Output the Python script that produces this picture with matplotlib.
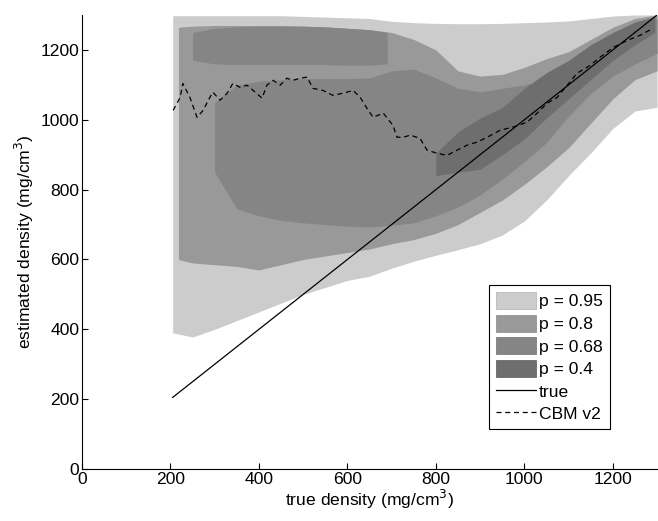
import numpy as np
import matplotlib
matplotlib.use("Agg")
import matplotlib.pyplot as plt
from matplotlib.patches import Patch

plt.rcParams["font.family"] = ["Liberation Sans", "DejaVu Sans"]
plt.rcParams["font.size"] = 12.6

# p = 0.95 region
light_x = [205, 250, 300, 350, 400, 450, 500, 550, 600, 650, 700, 750,
           800, 850, 900, 950, 1000, 1050, 1100, 1150, 1200, 1250, 1300]
light_lo = [390, 378, 400, 425, 450, 475, 500, 520, 540, 552, 575, 595,
            612, 628, 645, 670, 710, 770, 840, 905, 975, 1025, 1036]
light_hi = [1298, 1298, 1298, 1298, 1298, 1298, 1296, 1294, 1292, 1290, 1282, 1278,
            1276, 1275, 1275, 1276, 1278, 1280, 1283, 1290, 1297, 1300, 1300]

# p = 0.8 region
med_x = [218, 250, 300, 350, 400, 450, 500, 550, 600, 650, 700, 750,
         800, 850, 900, 950, 1000, 1050, 1100, 1150, 1200, 1250, 1300]
med_lo = [600, 590, 585, 580, 570, 585, 600, 610, 620, 630, 645, 657,
          675, 700, 735, 770, 815, 865, 920, 990, 1060, 1115, 1140]
med_hi = [1265, 1268, 1270, 1270, 1270, 1270, 1268, 1266, 1262, 1258, 1250, 1230,
          1200, 1140, 1125, 1130, 1150, 1175, 1195, 1230, 1265, 1290, 1300]

# p = 0.68 region (main body + thin strip near the top)
dark_x = [300, 350, 400, 450, 500, 550, 600, 650, 700, 750, 800,
          850, 900, 950, 1000, 1050, 1100, 1150, 1200, 1250, 1300]
dark_lo = [850, 745, 725, 712, 705, 700, 695, 693, 698, 705, 725,
           750, 785, 830, 880, 935, 1010, 1075, 1125, 1160, 1190]
dark_hi = [1050, 1100, 1110, 1115, 1118, 1118, 1118, 1120, 1140, 1145, 1120,
           1090, 1080, 1090, 1100, 1115, 1140, 1180, 1230, 1265, 1290]
strip_x = [250, 300, 350, 400, 450, 500, 550, 600, 650, 690]
strip_lo = [1170, 1160, 1158, 1158, 1158, 1158, 1158, 1156, 1156, 1160]
strip_hi = [1250, 1262, 1266, 1268, 1268, 1268, 1266, 1262, 1258, 1250]

# p = 0.4 region
core_x = [800, 850, 900, 950, 1000, 1050, 1100, 1150, 1200, 1250, 1295]
core_lo = [840, 850, 858, 900, 945, 1005, 1060, 1115, 1170, 1215, 1250]
core_hi = [905, 965, 1005, 1035, 1090, 1135, 1170, 1215, 1250, 1280, 1295]

# CBM v2 estimate
cbm_x = [206, 222, 228, 244, 260, 274, 289, 296, 312, 328, 341, 357, 373, 387,
         407, 418, 432, 448, 463, 477, 493, 509, 522, 545, 567, 590, 613, 629,
         644, 658, 681, 703, 712, 726, 742, 764, 780, 803, 825, 848, 870, 893,
         916, 945, 974, 1006, 1029, 1051, 1074, 1097, 1119, 1149, 1171, 1201,
         1232, 1262, 1291]
cbm_y = [1027, 1064, 1104, 1064, 1007, 1027, 1064, 1079, 1056, 1076, 1104, 1093,
         1099, 1084, 1062, 1099, 1113, 1099, 1119, 1113, 1119, 1122, 1090, 1084,
         1070, 1076, 1084, 1064, 1033, 1007, 1019, 984, 950, 950, 956, 947, 913,
         904, 898, 913, 927, 936, 950, 970, 979, 993, 1019, 1047, 1064, 1099,
         1133, 1156, 1179, 1207, 1227, 1242, 1262]

true_x = [205, 1300]

colors = {"0.95": "#cccccc", "0.8": "#999999", "0.68": "#858585", "0.4": "#6e6e6e"}

fig = plt.figure(figsize=(6.58, 5.21), dpi=100)
ax = fig.add_axes([0.1246, 0.0998, 0.874, 0.8714])

ax.fill_between(light_x, light_lo, light_hi, color=colors["0.95"], lw=0)
ax.fill_between(med_x, med_lo, med_hi, color=colors["0.8"], lw=0)
ax.fill_between(dark_x, dark_lo, dark_hi, color=colors["0.68"], lw=0)
ax.fill_between(strip_x, strip_lo, strip_hi, color=colors["0.68"], lw=0)
ax.fill_between(core_x, core_lo, core_hi, color=colors["0.4"], lw=0)

ax.plot(true_x, true_x, color="black", lw=0.9)
ax.plot(cbm_x, cbm_y, color="black", lw=0.9, ls=(0, (4, 3)))

ax.set_xlim(0, 1300)
ax.set_ylim(0, 1300)
ax.set_xticks(np.arange(0, 1300, 200))
ax.set_yticks(np.arange(0, 1300, 200))
ax.tick_params(direction="in", length=4, width=0.8, pad=2)
for side in ["top", "right"]:
    ax.spines[side].set_visible(False)

ax.set_xlabel("true density (mg/cm$^3$)", labelpad=1)
ax.set_ylabel("estimated density (mg/cm$^3$)", labelpad=3)

handles = [Patch(facecolor=colors["0.95"], edgecolor="#b0b0b0", lw=0.5, label="p = 0.95"),
           Patch(facecolor=colors["0.8"], edgecolor="#888888", lw=0.5, label="p = 0.8"),
           Patch(facecolor=colors["0.68"], edgecolor="#707070", lw=0.5, label="p = 0.68"),
           Patch(facecolor=colors["0.4"], edgecolor="#5a5a5a", lw=0.5, label="p = 0.4"),
           plt.Line2D([], [], color="black", lw=0.9, label="true"),
           plt.Line2D([], [], color="black", lw=0.9, ls=(0, (4, 3)), label="CBM v2")]
leg = ax.legend(handles=handles, loc="upper left", bbox_to_anchor=(0.708, 0.405),
                borderaxespad=0, fancybox=False, framealpha=1, edgecolor="black",
                handlelength=2.25, handleheight=1.1, labelspacing=0.3,
                handletextpad=0.2, borderpad=0.4)
leg.get_frame().set_linewidth(0.8)

fig.savefig("out.png", dpi=100)
